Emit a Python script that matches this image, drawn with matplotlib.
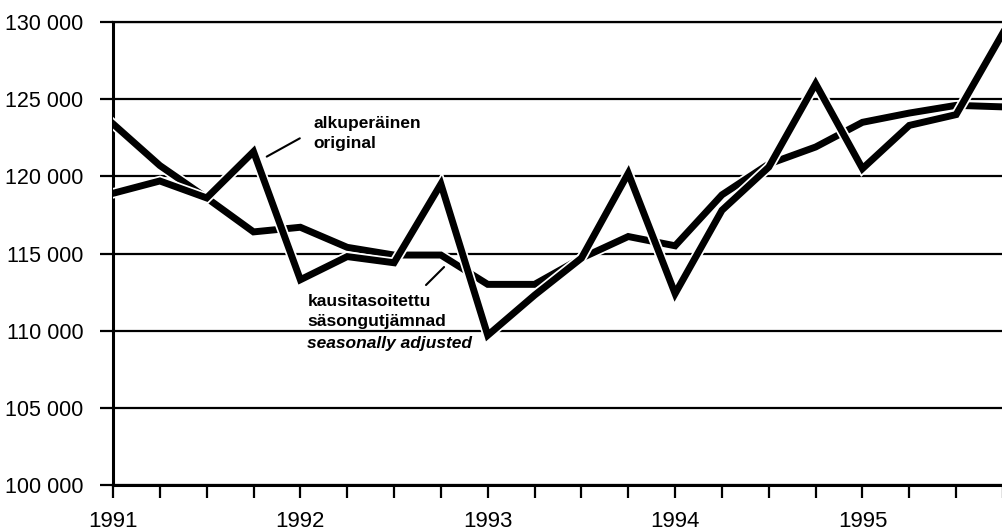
import numpy as np
import matplotlib
matplotlib.use("Agg")
import matplotlib.pyplot as plt
import matplotlib.patheffects as pe

# neljännesvuosittaiset arvot 1991Q1 - 1995Q4
years = ["1991", "1992", "1993", "1994", "1995"]
original = [118900, 119700, 118600, 121600,
            113300, 114800, 114400, 119500,
            109700, 112300, 114700, 120200,
            112400, 117800, 120600, 126000,
            120500, 123300, 124000, 129300]
adjusted = [123400, 120700, 118600, 116400,
            116700, 115400, 114900, 114900,
            113000, 113000, 114700, 116100,
            115500, 118800, 120800, 121900,
            123500, 124100, 124600, 124500]
y_ticks = [100000, 105000, 110000, 115000, 120000, 125000, 130000]

plt.rcParams['font.family'] = ['Liberation Sans', 'DejaVu Sans']

fig = plt.figure(figsize=(10.03, 5.32), dpi=100)
ax = fig.add_axes([113 / 1003, 1 - 485 / 532, 1 - 113 / 1003, (485 - 22) / 532])

xs = np.arange(len(original))
halo = [pe.Stroke(linewidth=7.5, foreground="white"), pe.Normal()]
ax.plot(xs, adjusted, color="black", lw=5, solid_joinstyle="miter",
        path_effects=halo, zorder=3)
ax.plot(xs, original, color="black", lw=5, solid_joinstyle="miter",
        path_effects=halo, zorder=4)

ax.set_xlim(0, 18.94)
ax.set_ylim(100000, 130000)

# akselit
ax.set_yticks(y_ticks)
ax.set_yticklabels([f"{v:,}".replace(",", " ") for v in y_ticks])
ax.set_xticks(xs)
ax.set_xticklabels([years[i // 4] if i % 4 == 0 else "" for i in xs])
ax.grid(axis="y", color="black", lw=1.6)
ax.tick_params(axis="y", direction="out", length=9.5, width=1.6, pad=12,
               labelsize=15.5)
ax.tick_params(axis="x", direction="out", length=9.5, width=1.6, pad=9,
               labelsize=16)
ax.spines["right"].set_visible(False)
ax.spines["top"].set_linewidth(1.6)
ax.spines["left"].set_linewidth(2.2)
ax.spines["bottom"].set_linewidth(2.2)

# selitteet
lbl = dict(fontsize=12.5, fontweight="bold", va="baseline", ha="left")
ax.text(4.28, 123130, "alkuperäinen", **lbl)
ax.text(4.28, 121830, "original", **lbl)
ax.annotate("", xy=(3.23, 121190), xytext=(4.04, 122550),
            arrowprops=dict(arrowstyle="-", lw=1.5, color="black"))
ax.text(4.15, 111600, "kausitasoitettu", **lbl)
ax.text(4.15, 110300, "säsongutjämnad", **lbl)
ax.text(4.15, 108880, "seasonally adjusted", fontstyle="italic", **lbl)
ax.annotate("", xy=(7.11, 114250), xytext=(6.64, 112830),
            arrowprops=dict(arrowstyle="-", lw=1.5, color="black"))

plt.savefig("out.png", dpi=100)
